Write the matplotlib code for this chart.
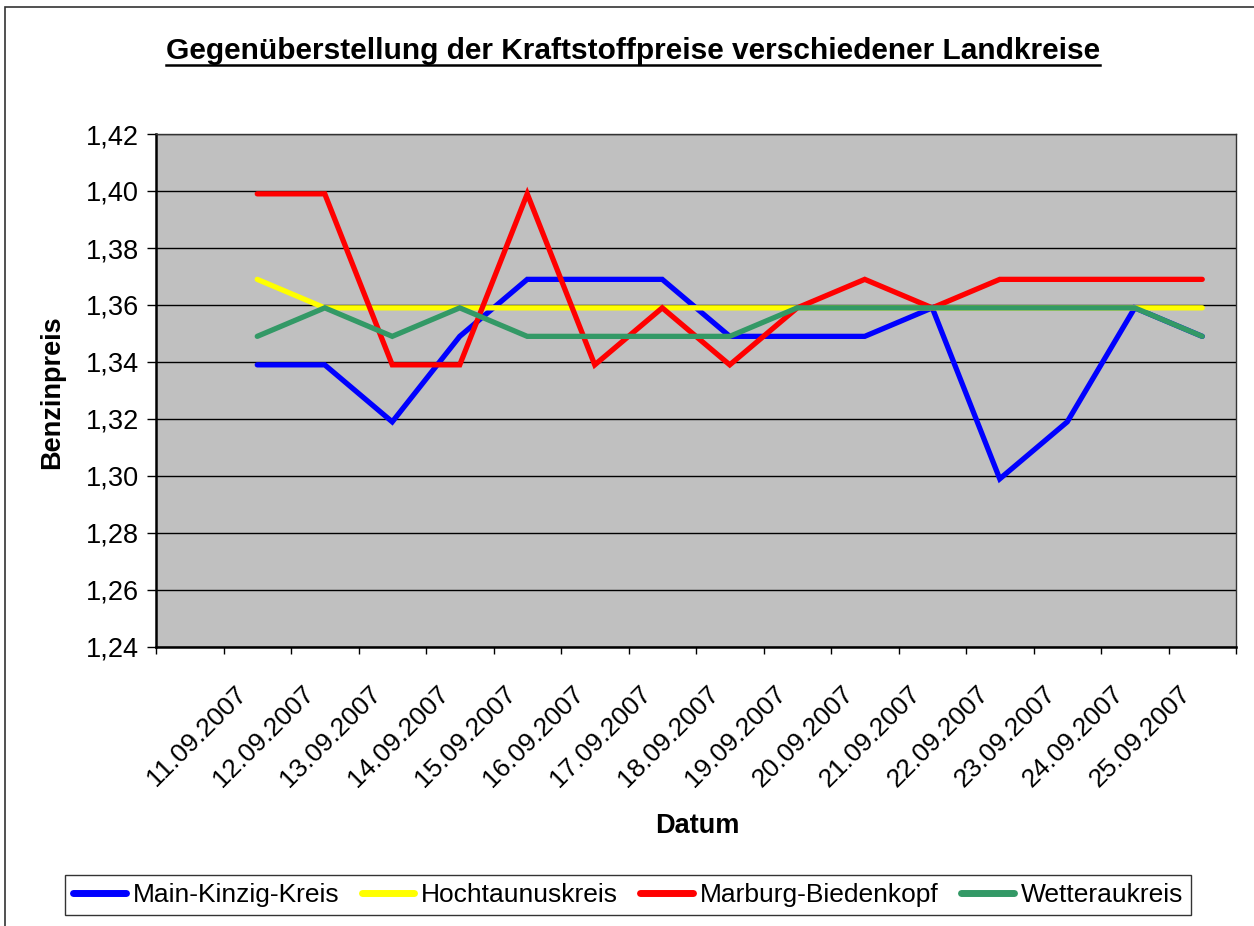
import matplotlib
matplotlib.use("Agg")
import matplotlib.pyplot as plt
from matplotlib.lines import Line2D
from matplotlib.patches import Rectangle

plt.rcParams["font.family"] = ["Liberation Sans", "DejaVu Sans"]

# --- data ---
dates = ["11.09.2007", "12.09.2007", "13.09.2007", "14.09.2007", "15.09.2007",
         "16.09.2007", "17.09.2007", "18.09.2007", "19.09.2007", "20.09.2007",
         "21.09.2007", "22.09.2007", "23.09.2007", "24.09.2007", "25.09.2007"]

main_kinzig = [1.339, 1.339, 1.319, 1.349, 1.369, 1.369, 1.369, 1.349,
               1.349, 1.349, 1.359, 1.299, 1.319, 1.359, 1.349]
hochtaunus = [1.369, 1.359, 1.359, 1.359, 1.359, 1.359, 1.359, 1.359,
              1.359, 1.359, 1.359, 1.359, 1.359, 1.359, 1.359]
marburg = [1.399, 1.399, 1.339, 1.339, 1.399, 1.339, 1.359, 1.339,
           1.359, 1.369, 1.359, 1.369, 1.369, 1.369, 1.369]
wetterau = [1.349, 1.359, 1.349, 1.359, 1.349, 1.349, 1.349, 1.349,
            1.359, 1.359, 1.359, 1.359, 1.359, 1.359, 1.349]

series = [
    ("Main-Kinzig-Kreis", main_kinzig, "#0000FF"),
    ("Hochtaunuskreis", hochtaunus, "#FFFF00"),
    ("Marburg-Biedenkopf", marburg, "#FF0000"),
    ("Wetteraukreis", wetterau, "#339966"),
]

W, H = 1254, 926
fig = plt.figure(figsize=(W / 100, H / 100), dpi=100)

# chart area border (runs off the right/bottom edge like the original)
fig.patches.append(Rectangle((5 / W, -0.05), 1.2, 1 - 7 / H + 0.05,
                             transform=fig.transFigure, fill=False,
                             edgecolor="#333333", linewidth=1.2))

ax = fig.add_axes([156 / W, 1 - 647 / H, (1236 - 156) / W, (647 - 134) / H])
ax.set_facecolor("#C0C0C0")

# data sit in category slots 1..15 (slot 0 is empty in the original)
xs = [i + 1.5 for i in range(len(dates))]
for name, vals, col in series:
    ax.plot(xs, vals, color=col, linewidth=3.8, label=name,
            solid_capstyle="round", solid_joinstyle="miter")

ax.set_xlim(0, 16)
ax.set_ylim(1.24, 1.42)
yt = [1.24 + 0.02 * k for k in range(10)]
ax.set_yticks(yt)
ax.set_yticklabels([f"{v:.2f}".replace(".", ",") for v in yt], fontsize=19.5)
ax.yaxis.grid(True, color="black", linewidth=1)
ax.set_axisbelow(True)
ax.tick_params(axis="y", direction="out", length=6.5, width=1, pad=6)

# category boundaries as tick marks, date labels as minor ticks
ax.set_xticks(range(17))
ax.set_xticklabels([])
ax.tick_params(axis="x", which="major", direction="out", length=5, width=1)
ax.set_xticks([i + 1.28 for i in range(len(dates))], minor=True)
ax.set_xticklabels(dates, minor=True, fontsize=19, rotation=45,
                   ha="right", va="center", rotation_mode="anchor")
ax.tick_params(axis="x", which="minor", length=0, pad=31)

for s in ["left", "bottom"]:
    ax.spines[s].set_linewidth(1.8)
for s in ["top", "right"]:
    ax.spines[s].set_linewidth(1.0)
    ax.spines[s].set_color("#333333")

fig.text(52 / W, 1 - 392 / H, "Benzinpreis", rotation=90, fontsize=19.5,
         fontweight="bold", ha="center", va="center")
fig.text(697 / W, 1 - 826 / H, "Datum", fontsize=19.5, fontweight="bold",
         ha="center", va="center")

title = fig.text(633 / W, 1 - 51 / H,
                 "Gegenüberstellung der Kraftstoffpreise verschiedener Landkreise",
                 fontsize=21.5, fontweight="bold", ha="center", va="center")

leg = fig.legend(loc="center", bbox_to_anchor=(628 / W, 1 - 895 / H), ncol=4,
                 fontsize=19, frameon=True, fancybox=False, handlelength=2.0,
                 handletextpad=0.25, columnspacing=0.85, borderpad=0.3)
leg.get_frame().set_edgecolor("black")
leg.get_frame().set_linewidth(1.0)
for h in leg.get_lines():
    h.set_linewidth(5)

# underline the title
fig.canvas.draw()
bb = title.get_window_extent(fig.canvas.get_renderer())
uy = 1 - 65 / H
fig.add_artist(Line2D([bb.x0 / W, bb.x1 / W], [uy, uy], color="black",
                      linewidth=1.8, transform=fig.transFigure))

fig.savefig("out.png", dpi=100)
